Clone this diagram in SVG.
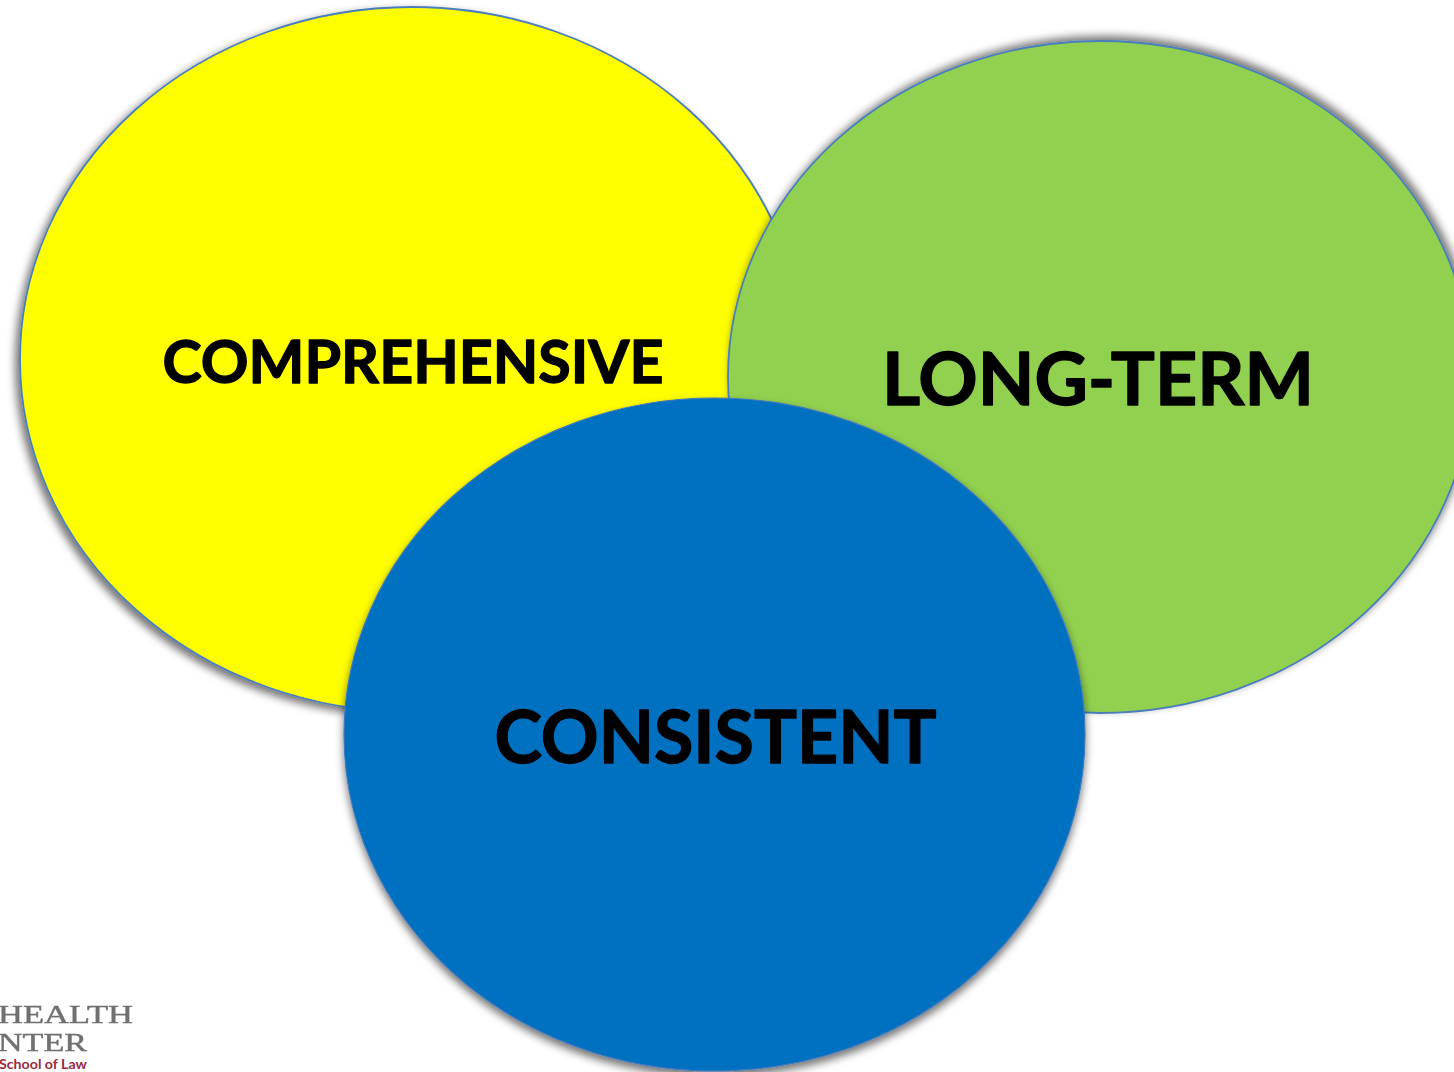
<svg xmlns="http://www.w3.org/2000/svg" width="1454" height="1072" viewBox="0 0 1454 1072">
<style>
.c{stroke:#4a7ebb;stroke-width:1.8}
.t{font-family:"Lato","Open Sans",sans-serif;font-weight:700;fill:#000;stroke:#000;stroke-width:1.3;stroke-linejoin:round;text-anchor:middle}
.l{font-family:"Liberation Serif",serif;fill:#6f6f72;stroke:#6f6f72;stroke-width:.4;filter:url(#b)}
</style>
<defs>
<filter id="sy" x="-5%" y="-5%" width="110%" height="110%"><feDropShadow dx="-4" dy="4" stdDeviation="4" flood-color="#000" flood-opacity="0.55"/></filter>
<filter id="sg" x="-5%" y="-5%" width="110%" height="110%"><feDropShadow dx="3" dy="-4" stdDeviation="4" flood-color="#000" flood-opacity="0.55"/></filter>
<filter id="sb" x="-5%" y="-5%" width="110%" height="110%"><feDropShadow dx="0" dy="5" stdDeviation="4" flood-color="#000" flood-opacity="0.55"/></filter>
<filter id="b"><feGaussianBlur stdDeviation="0.5"/></filter>
</defs>
<rect width="1454" height="1072" fill="#fff"/>
<g id="connectors"/>
<g id="node-comprehensive"><ellipse class="c" cx="412" cy="359.5" rx="392" ry="352.5" fill="#ffff00" filter="url(#sy)"/>
<text class="t" x="413" y="382.5" font-size="60" textLength="501" lengthAdjust="spacingAndGlyphs">COMPREHENSIVE</text></g>
<g id="node-long-term"><ellipse class="c" cx="1100" cy="377" rx="372" ry="336" fill="#92d050" filter="url(#sg)"/>
<text class="t" x="1098" y="404.5" font-size="73" textLength="432" lengthAdjust="spacingAndGlyphs">LONG-TERM</text></g>
<g id="node-consistent"><ellipse class="c" cx="714.5" cy="734.5" rx="370.5" ry="336.5" fill="#0070c0" filter="url(#sb)" style="stroke:#3f78bd;stroke-width:1.2"/>
<text class="t" x="715.5" y="763" font-size="73" textLength="442" lengthAdjust="spacingAndGlyphs">CONSISTENT</text></g>
<g id="logo">
<text class="l" x="133" y="1023" font-size="25" text-anchor="end" textLength="135" lengthAdjust="spacingAndGlyphs">HEALTH</text>
<text class="l" x="87" y="1051" font-size="25" text-anchor="end" textLength="89" lengthAdjust="spacingAndGlyphs">NTER</text>
<text x="87" y="1069" font-size="12.5" text-anchor="end" font-family="Lato,'Liberation Sans',sans-serif" font-weight="700" fill="#9b2a3f" textLength="88" lengthAdjust="spacingAndGlyphs">School of Law</text>
</g>
</svg>
